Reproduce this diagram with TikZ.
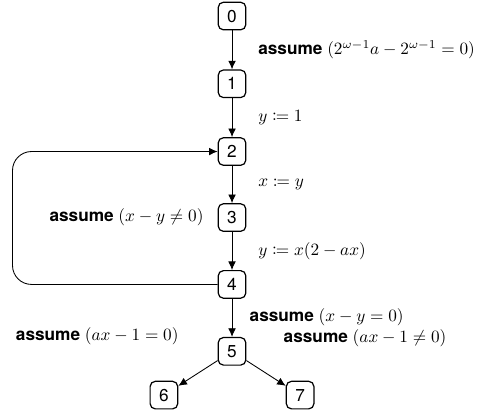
\documentclass[tikz,border=0pt]{standalone}
\usepackage{fontspec}
\setsansfont{TeX Gyre Heros}
\usepackage{mathtools}
\usetikzlibrary{positioning,arrows.meta}

\begin{document}
\begin{tikzpicture}[
  state/.style={
    draw,
    line width=0.7pt,
    rounded corners=3pt,
    align=center,
    font=\sffamily\normalsize,
    minimum width=16pt,
    minimum height=16pt,
    inner sep=1pt,
    fill=white
  },
  lbl/.style={font=\sffamily\normalsize, inner sep=2pt},
  line/.style={draw, line width=0.5pt, -{Latex[length=5pt, width=4.5pt]}}
]
\useasboundingbox (-134.6pt,9.3pt) rectangle (142.7pt,-232.6pt);

\node[state] (n0) {0};
\node[state, below=22.6pt of n0] (n1) {1};
\node[state, below=22.6pt of n1] (n2) {2};
\node[state, below=21.6pt of n2] (n3) {3};
\node[state, below=22.1pt of n3] (n4) {4};
\node[state, below=22.1pt of n4] (n5) {5};

\node[state, below=8.7pt of n5, xshift=-39.5pt] (n6) {6};
\node[state, below=8.7pt of n5, xshift=39.5pt] (n7) {7};

\node[lbl, left=6pt of n3] (loopcond) {\textbf{assume} $(x - y \neq 0)$};

\draw[line] (n0) -- node[lbl, right=13pt] {\textbf{assume} $(2^{\omega-1}a - 2^{\omega-1} = 0)$} (n1);
\draw[line] (n1) -- node[lbl, right=13pt] {$y \coloneqq 1$} (n2);
\draw[line] (n2) -- node[lbl, right=13pt] {$x \coloneqq y$} (n3);
\draw[line] (n3) -- node[lbl, right=13pt] {$y \coloneqq x(2 - ax)$} (n4);
\draw[line] (n4) -- node[lbl, right=8pt, yshift=0.3pt] {\textbf{assume} $(x - y = 0)$} (n5);
\draw[line, rounded corners=11pt] (n4.west) -- ++(-119pt,0) |- (n2.west);
\draw[line] (n5) -- node[lbl, above left=14.3pt and 9pt] {\textbf{assume} $(ax - 1 = 0)$} (n6);
\draw[line] (n5) -- node[lbl, above right=13.2pt and 8pt] {\textbf{assume} $(ax - 1 \neq 0)$} (n7);
\end{tikzpicture}
\end{document}
